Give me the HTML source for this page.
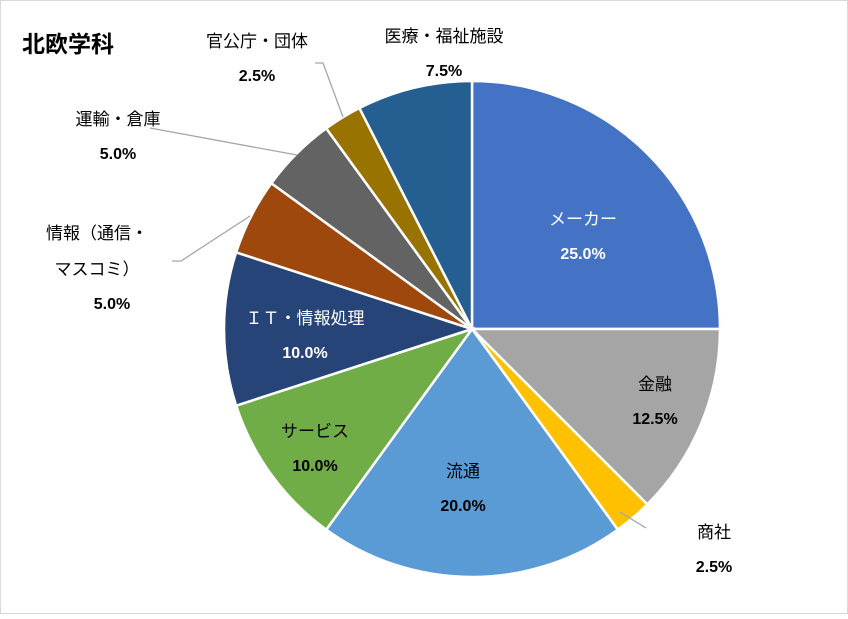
<!DOCTYPE html>
<html><head><meta charset="utf-8">
<style>
body{margin:0;background:#fff;}
svg text{font-family:"Liberation Sans","Noto Sans CJK JP",sans-serif;}
</style></head>
<body>
<svg id="chart" width="848" height="614" xmlns="http://www.w3.org/2000/svg">
<rect x="0.5" y="0.5" width="847" height="613" fill="#fff" stroke="#d9d9d9"/>
<text x="22" y="52" font-size="23" font-weight="bold" fill="#000">北欧学科</text>
<g id="slices"></g>
<g id="leaders" fill="none" stroke="#a6a6a6" stroke-width="1.3">
<polyline points="315,63 323,63 343,117"/>
<polyline points="150,128 297,155"/>
<polyline points="172,261 181,261 250,216"/>
<polyline points="620,512 646,528"/>
</g>
<g id="labels" font-size="16" font-weight="bold" text-anchor="middle"></g>
</svg>
<script>
const categories=["メーカー","金融","商社","流通","サービス","ＩＴ・情報処理","情報（通信・マスコミ）","運輸・倉庫","官公庁・団体","医療・福祉施設"];
const values=[25.0,12.5,2.5,20.0,10.0,10.0,5.0,5.0,2.5,7.5];
const colors=["#4472C4","#A5A5A5","#FFC000","#5B9BD5","#70AD47","#264478","#9E480E","#636363","#997300","#255E91"];
const cx=472,cy=329,R=248;
const NS="http://www.w3.org/2000/svg";
const total=values.reduce((a,b)=>a+b,0);
const g=document.getElementById('slices');
let a0=0;
values.forEach((v,i)=>{
  const a1=a0+v/total*2*Math.PI;
  const p=(a)=>[cx+R*Math.sin(a),cy-R*Math.cos(a)];
  const [x0,y0]=p(a0),[x1,y1]=p(a1);
  const large=(a1-a0)>Math.PI?1:0;
  const path=document.createElementNS(NS,'path');
  path.setAttribute('d',`M${cx},${cy} L${x0},${y0} A${R},${R} 0 ${large} 1 ${x1},${y1} Z`);
  path.setAttribute('fill',colors[i]);
  path.setAttribute('stroke','#fff');
  path.setAttribute('stroke-width','2.5');
  
  
  g.appendChild(path);
  a0=a1;
});
// label layout: [lines..., x, y-start, color]
const labelPos=[
 [[categories[0]],583,225,"#fff"],
 [[categories[1]],655,390,"#000"],
 [[categories[2]],714,538,"#000"],
 [[categories[3]],463,477,"#000"],
 [[categories[4]],315,437,"#000"],
 [[categories[5]],305,324,"#fff"],
 [["情報（通信・","マスコミ）"],97,239,"#000"],
 [[categories[7]],118,125,"#000"],
 [[categories[8]],257,47,"#000"],
 [[categories[9]],444,42,"#000"]
];
const lg=document.getElementById('labels');
labelPos.forEach((L,i)=>{
  const [lines,x,y,c]=L;
  let yy=y;
  lines.forEach(s=>{
    const t=document.createElementNS(NS,'text');
    t.setAttribute('x',x);t.setAttribute('y',yy);t.setAttribute('fill',c);
    t.setAttribute('font-size','17');
    t.setAttribute('font-weight','normal');
    t.textContent=s;
    
    
    lg.appendChild(t);
    yy+=36;
  });
  const t=document.createElementNS(NS,'text');
  t.setAttribute('x',i===6?112:x);t.setAttribute('y',yy-2);t.setAttribute('fill',c);
  t.textContent=values[i].toFixed(1)+'%';
  
  
  lg.appendChild(t);
});
</script>
</body></html>
